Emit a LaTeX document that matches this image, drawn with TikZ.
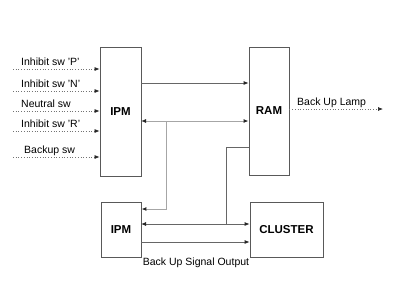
\documentclass[tikz,border=0pt]{standalone}
\usepackage{fontspec}
\setsansfont{Liberation Sans}
\usepackage{tikz}
\usetikzlibrary{arrows.meta,positioning}

\begin{document}
\begin{tikzpicture}[x=1pt, y=-1pt,
  box/.style={draw=black!65, line width=0.8pt, font=\sffamily\bfseries\fontsize{11.5}{13}\selectfont,
              inner sep=0pt},
  lbl/.style={font=\sffamily\fontsize{10.5}{12}\selectfont, inner sep=0pt},
  arr/.style={-{Latex[length=5pt,width=4pt,black!85]}},
  dbl/.style={{Latex[length=5pt,width=4pt,black!85]}-{Latex[length=5pt,width=4pt,black!85]}},
  wire/.style={draw=black!60, line width=0.8pt},
  lwire/.style={draw=black!35, line width=1pt},
  sig/.style={draw=black!55, line width=0.7pt, dotted}]
\useasboundingbox (0,0) rectangle (402,301);
\node[box, minimum width=41pt, minimum height=129pt] (ipm) at (120.5,111.5) {IPM};
\node[box, minimum width=40pt, minimum height=128pt] (ram) at (269,111) {RAM};
\node[box, minimum width=40pt, minimum height=55pt] (ipmb) at (121,229.5) {IPM};
\node[box, minimum width=73pt, minimum height=55pt] (clus) at (286.5,229.5) {CLUSTER};
% switch inputs
\foreach \i/\y/\x/\txt in {1/69/21/Inhibit sw 'P', 2/91/21/Inhibit sw 'N', 3/111/21/Neutral sw,
                           4/131/21/Inhibit sw 'R', 5/157/24/Backup sw} {
  \coordinate (sw\i) at (13,\y);
  \node[lbl, anchor=base west] (lb\i) at (\x,\y-4) {\txt};
  \draw[sig, arr] (sw\i) -- (sw\i -| ipm.west);
}
% IPM <-> RAM
\coordinate (a1) at (141,83);
\coordinate (a2) at (141,121);
\coordinate (t1) at (166,121);
\coordinate (t2) at (226,147);
\draw[wire, arr] (a1) -- (a1 -| ram.west);
\draw[lwire, dbl] (a2) -- (a2 -| ram.west);
\draw[lwire, arr] (t1) -- (t1 |- 0,209) -- (ipmb.east |- 0,209);
\draw[wire] (t2 -| ram.west) -- (t2) -- (t2 |- 0,224);
% IPM <-> CLUSTER
\coordinate (b1) at (141,224);
\coordinate (b2) at (141,242);
\draw[wire, dbl] (b1) -- (b1 -| clus.west);
\draw[wire, arr] (b2) -- (b2 -| clus.west);
\node[lbl] (bso) at (196,263) {Back Up Signal Output};
% lamp output
\coordinate (lp) at (383,109);
\draw[sig, arr] (lp -| ram.east) -- (lp);
\node[lbl, anchor=base west] (lamp) at (297,105) {Back Up Lamp};
\end{tikzpicture}
\end{document}
